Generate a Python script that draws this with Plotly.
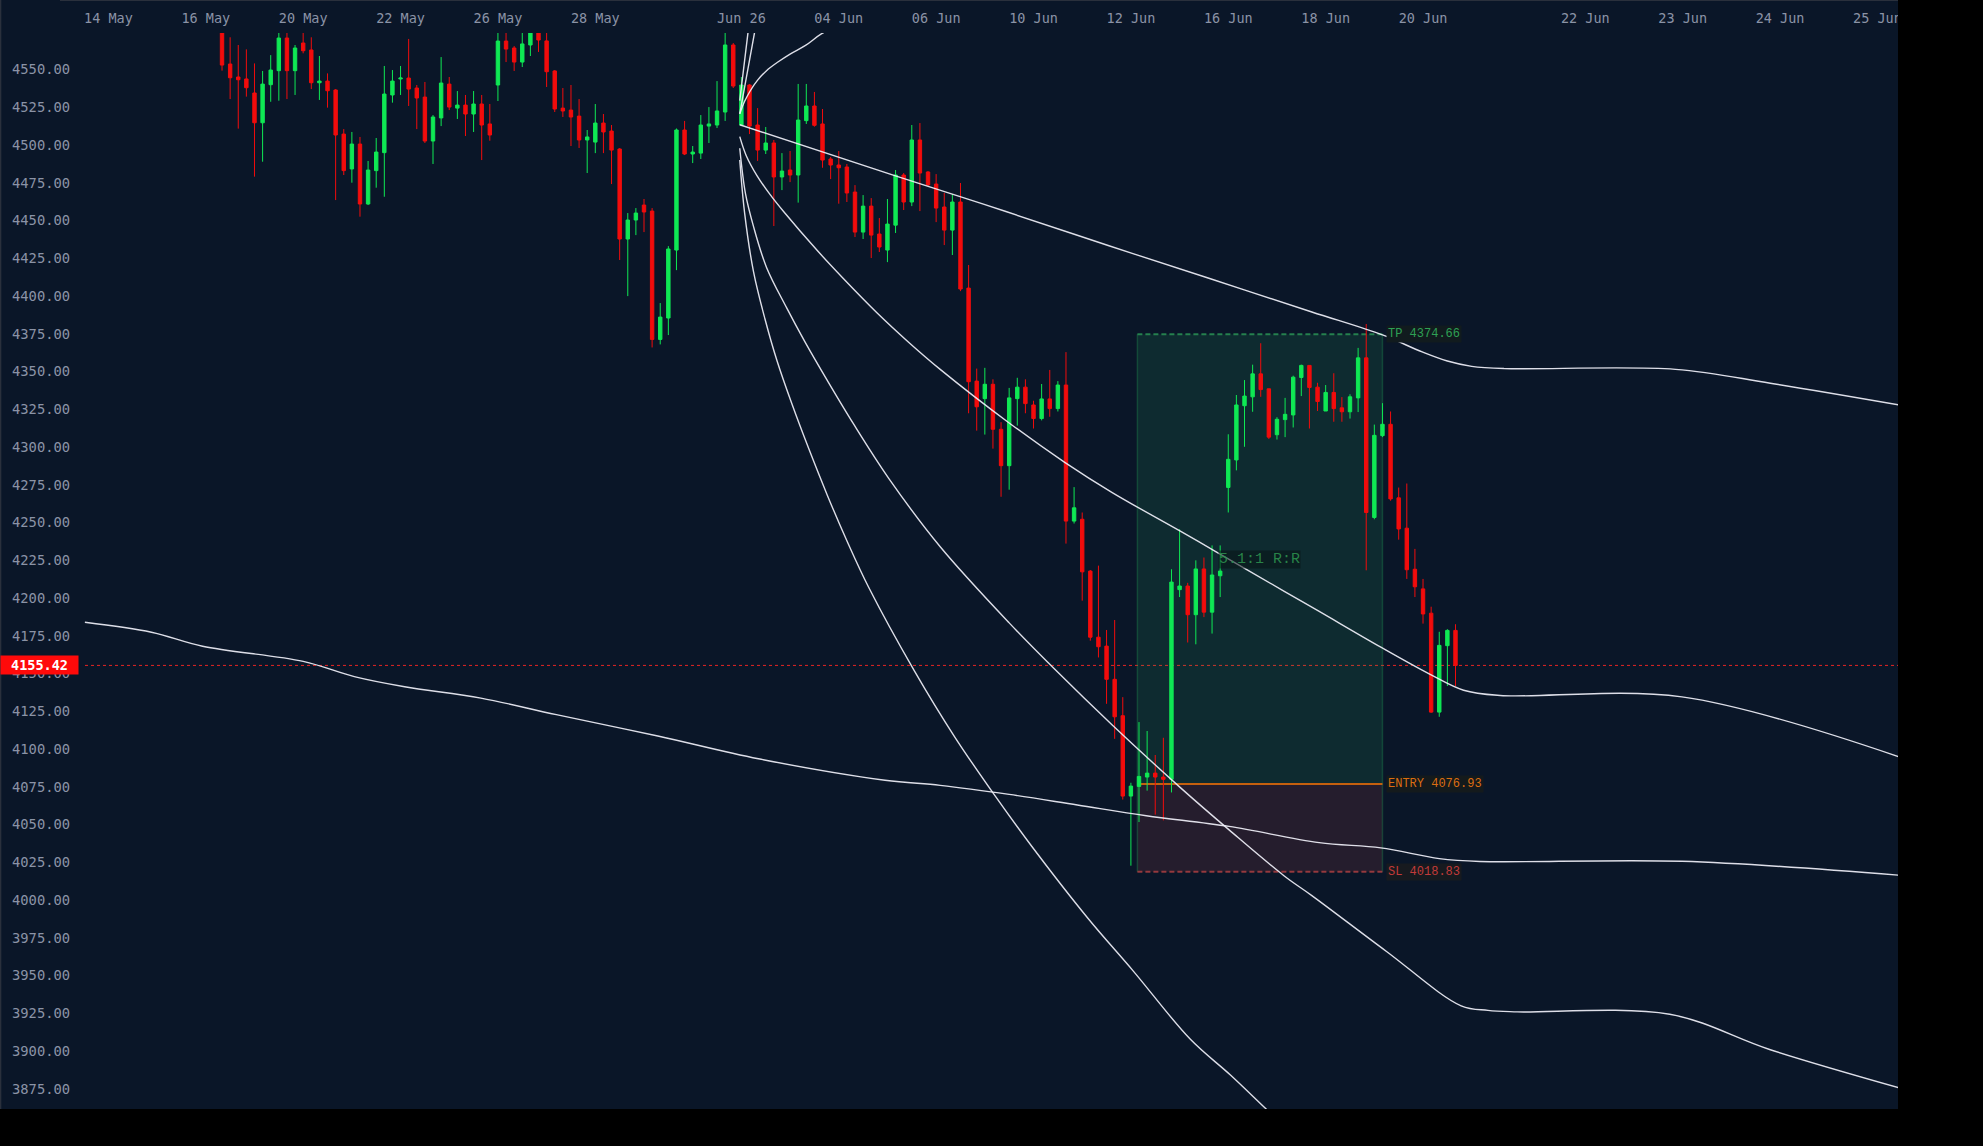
import plotly.graph_objects as go

# ---------------- data ----------------
bar_idx = list(range(14, 167))
opens = [4580, 4553.7, 4545.1, 4543.8, 4534.5, 4514.8, 4540.0, 4549.3, 4570.9, 4549.3,
         4567.6, 4563.0, 4541.3, 4542.4, 4536.5, 4507.3, 4484.2, 4500.7, 4461.0, 4483.1,
         4495.0, 4533.2, 4543.8, 4544.4, 4537.8, 4531.8, 4502.7, 4518.0, 4540.4, 4524.5,
         4526.5, 4520.6, 4527.2, 4514.0, 4539.8, 4568.9, 4564.3, 4555.0, 4566.3, 4576.0,
         4569.0, 4549.1, 4524.5, 4523.2, 4519.2, 4503.4, 4502.0, 4514.6, 4509.3, 4497.4,
         4437.8, 4450.4, 4460.3, 4456.3, 4371.3, 4385.5, 4430.5, 4510.0, 4494.1, 4494.7,
         4512.6, 4513.3, 4521.9, 4566.3, 4513.3, 4539.8, 4513.3, 4496.7, 4501.4, 4478.9,
         4483.5, 4480.2, 4516.2, 4525.9, 4514.0, 4490.8, 4486.8, 4485.5, 4468.9, 4442.4,
         4459.6, 4441.1, 4430.5, 4447.0, 4480.2, 4462.3, 4503.4, 4482.2, 4474.2, 4459.0,
         4443.7, 4462.3, 4405.3, 4343.7, 4332.1, 4341.6, 4311.8, 4287.7, 4332.1, 4339.7,
         4327.9, 4318.9, 4331.9, 4325.5, 4341.1, 4251.0, 4252.2, 4217.9, 4174.1, 4168.2,
         4146.2, 4122.1, 4068.9, 4075.3, 4081.5, 4084.1, 4081.5, 4080.0, 4205.6, 4208.0,
         4189.0, 4219.3, 4190.7, 4214.8, 4273.3, 4291.5, 4327.4, 4333.3, 4348.5, 4338.6,
         4308.2, 4318.2, 4321.3, 4346.1, 4354.1, 4339.7, 4323.9, 4336.2, 4326.0, 4323.4,
         4332.6, 4359.1, 4253.4, 4307.6, 4315.1, 4266.4, 4246.3, 4219.1, 4206.1, 4190.0,
         4124.5, 4168.5, 4178.6]
highs = [4590, 4571.4, 4566.3, 4563.4, 4554.1, 4549.1, 4559.6, 4576.0, 4576.0, 4566.3,
         4576.0, 4571.4, 4559.0, 4547.5, 4537.1, 4510.6, 4508.7, 4505.4, 4489.5, 4504.7,
         4552.4, 4549.7, 4552.4, 4570.3, 4539.8, 4541.8, 4519.9, 4558.3, 4545.1, 4535.8,
         4533.2, 4535.8, 4533.2, 4527.2, 4576.0, 4576.0, 4565.6, 4576.0, 4580.0, 4580.0,
         4578.0, 4549.7, 4537.8, 4539.8, 4530.5, 4510.0, 4527.2, 4520.6, 4513.3, 4498.0,
         4455.0, 4458.3, 4464.3, 4458.3, 4395.4, 4433.1, 4511.0, 4516.0, 4499.4, 4519.9,
         4525.2, 4542.4, 4576.0, 4567.6, 4545.1, 4540.4, 4524.5, 4512.0, 4503.4, 4494.7,
         4496.1, 4540.5, 4540.5, 4535.2, 4523.9, 4492.1, 4496.1, 4487.5, 4473.5, 4466.9,
         4464.9, 4451.7, 4464.3, 4483.5, 4481.5, 4513.3, 4514.6, 4482.8, 4480.8, 4468.3,
         4467.6, 4474.9, 4420.6, 4352.0, 4352.5, 4344.9, 4316.5, 4339.2, 4345.9, 4344.9,
         4330.7, 4341.8, 4351.1, 4343.7, 4362.9, 4273.5, 4256.7, 4218.6, 4221.5, 4178.9,
         4185.5, 4134.4, 4077.7, 4117.9, 4112.0, 4096.1, 4107.5, 4219.1, 4245.6, 4210.1,
         4225.0, 4226.9, 4234.9, 4234.9, 4308.5, 4334.5, 4344.4, 4354.6, 4368.8, 4338.6,
         4319.8, 4332.6, 4347.3, 4354.6, 4354.1, 4342.6, 4341.1, 4348.9, 4333.1, 4335.0,
         4365.7, 4381.5, 4314.9, 4329.1, 4323.6, 4273.2, 4275.9, 4232.6, 4212.7, 4194.3,
         4177.7, 4179.4, 4182.7]
lows = [4549.3, 4530.5, 4510.9, 4532.1, 4479.1, 4489.0, 4528.7, 4529.4, 4530.5, 4533.2,
        4560.8, 4537.1, 4529.9, 4524.8, 4463.6, 4480.2, 4475.1, 4452.6, 4460.3, 4471.8,
        4465.8, 4528.1, 4533.2, 4525.9, 4510.6, 4501.4, 4487.5, 4512.6, 4523.2, 4517.3,
        4506.0, 4508.7, 4490.1, 4502.9, 4529.2, 4555.0, 4549.1, 4551.7, 4559.0, 4561.7,
        4538.5, 4521.9, 4518.6, 4499.4, 4498.1, 4481.5, 4494.7, 4494.7, 4474.2, 4423.9,
        4400.0, 4440.4, 4442.4, 4366.0, 4368.0, 4374.2, 4417.2, 4493.4, 4488.1, 4490.8,
        4501.4, 4511.3, 4516.0, 4537.8, 4512.6, 4507.3, 4489.5, 4494.1, 4446.4, 4470.2,
        4475.5, 4461.9, 4514.0, 4512.2, 4485.0, 4477.5, 4461.2, 4462.3, 4439.1, 4437.8,
        4425.2, 4429.2, 4422.5, 4441.8, 4457.0, 4459.6, 4456.3, 4472.9, 4449.0, 4433.8,
        4427.2, 4403.3, 4322.4, 4310.9, 4308.3, 4299.0, 4267.1, 4271.8, 4314.2, 4322.4,
        4312.3, 4317.7, 4320.1, 4323.6, 4236.1, 4249.4, 4198.3, 4171.8, 4160.7, 4130.0,
        4106.8, 4066.6, 4022.8, 4051.7, 4072.5, 4056.6, 4052.8, 4071.3, 4200.7, 4170.6,
        4169.4, 4187.4, 4176.5, 4200.7, 4256.7, 4284.6, 4300.2, 4323.4, 4333.3, 4305.4,
        4305.0, 4306.6, 4313.0, 4333.8, 4312.3, 4323.9, 4323.9, 4316.8, 4316.8, 4318.9,
        4323.2, 4218.4, 4252.2, 4306.6, 4264.5, 4238.7, 4212.7, 4200.7, 4183.1, 4124.0,
        4121.4, 4141.8, 4141.8]
closes = [4553.0, 4544.6, 4543.3, 4538.0, 4514.8, 4540.4, 4549.7, 4570.9, 4549.3, 4564.3,
          4562.5, 4541.3, 4542.4, 4536.0, 4506.7, 4483.1, 4500.7, 4461.0, 4483.5, 4495.4,
          4533.8, 4542.4, 4544.4, 4537.1, 4531.2, 4502.7, 4518.6, 4541.1, 4525.2, 4526.5,
          4520.6, 4527.2, 4513.3, 4506.7, 4568.9, 4563.6, 4555.0, 4567.0, 4578.0, 4569.6,
          4548.6, 4523.9, 4522.6, 4518.6, 4503.4, 4505.4, 4514.6, 4508.7, 4496.7, 4437.8,
          4450.4, 4455.0, 4455.7, 4371.3, 4386.1, 4431.2, 4510.0, 4494.1, 4495.4, 4513.3,
          4514.0, 4522.6, 4566.3, 4539.1, 4539.8, 4512.6, 4496.7, 4501.4, 4478.9, 4482.8,
          4480.2, 4516.6, 4525.9, 4513.1, 4490.1, 4486.8, 4485.0, 4468.3, 4442.4, 4459.6,
          4440.4, 4432.5, 4447.7, 4480.2, 4462.3, 4503.4, 4481.5, 4473.6, 4458.3, 4443.7,
          4462.3, 4404.7, 4343.3, 4326.7, 4341.6, 4311.8, 4287.7, 4332.6, 4339.7, 4328.8,
          4318.9, 4331.9, 4325.5, 4341.1, 4251.0, 4259.8, 4217.4, 4174.1, 4167.8, 4146.2,
          4121.4, 4068.9, 4075.5, 4081.9, 4084.1, 4081.5, 4080.0, 4210.6, 4208.0, 4189.0,
          4219.3, 4190.7, 4215.3, 4217.9, 4291.9, 4327.9, 4333.8, 4348.5, 4338.1, 4306.6,
          4318.4, 4321.7, 4346.3, 4354.1, 4339.5, 4330.2, 4336.2, 4325.5, 4323.4, 4333.3,
          4359.1, 4256.7, 4307.8, 4315.1, 4265.7, 4245.8, 4218.8, 4207.5, 4189.5, 4124.5,
          4168.7, 4178.6, 4155.42]

# time axis labels (bar index -> label)
label_pos = [0, 12, 24, 36, 48, 60, 78, 90, 102, 114, 126, 138, 150, 162, 182, 194, 206, 218]
label_txt = ["14 May", "16 May", "20 May", "22 May", "26 May", "28 May", "Jun 26", "04 Jun",
             "06 Jun", "10 Jun", "12 Jun", "16 Jun", "18 Jun", "20 Jun", "22 Jun", "23 Jun",
             "24 Jun", "25 Jun"]

# white curves (bar index, price)
band_a_x = [-2.9, 5.3, 11.6, 24, 30.3, 36.5, 45.9, 55.2, 67.7, 80.1, 95.7, 102.5, 111, 119.4,
            127.9, 138.1, 149.2, 156.8, 164, 169, 193.9, 220.6]
band_a_y = [4184, 4177.4, 4168.1, 4158.1, 4148, 4141.3, 4133.8, 4122.8, 4108.7, 4093.6, 4079.4,
            4076, 4070, 4063, 4055.9, 4048.8, 4038.1, 4034.6, 4027.5, 4025.6, 4025.7, 4016.5]
fan_b_x = [77.8, 96.8, 110.6, 123.2, 135.8, 148.3, 157.0, 161.9, 165.0, 168.0, 172, 193.1,
           204.8, 220.6]
fan_b_y = [4513.5, 4480.0, 4456.0, 4433.5, 4411.5, 4389.5, 4374.3, 4363.0, 4357.0, 4353.5,
           4352, 4351.5, 4342.3, 4328]
fan_c_x = [77.8, 78.6, 79.9, 81.5, 83.2, 87.3, 90.5, 94.7, 98.5, 102.5, 111, 117.8, 123.7,
           132.2, 136.4, 144.9, 149.1, 156.8, 162.7, 167, 171.5, 193.9, 220.6]
fan_c_y = [4505.6, 4493, 4480, 4467.5, 4456, 4430.5, 4412, 4389, 4370, 4351.5, 4316,
           4290.1, 4269.9, 4244, 4231, 4204.5, 4191.5, 4167.5, 4150, 4139, 4135.5,
           4134.6, 4095]
fan_d_x = [77.8, 78.5, 79.5, 81.1, 83.6, 85.8, 88.6, 91.8, 96.2, 102.5, 111, 116.5, 123.7,
           132.2, 138.1, 144.9, 148.3, 157.5, 166.7, 170, 173.6, 192.4, 204.8, 220.6]
fan_d_y = [4497.9, 4468, 4446, 4419, 4392, 4370, 4344, 4315.5, 4279, 4234, 4183.6,
           4153.5, 4116, 4074, 4046.5, 4016, 4003, 3966, 3930, 3927, 3926, 3924.4,
           3900.9, 3875.8]
fan_e_x = [77.8, 78.4, 79.5, 80.9, 82.4, 84.2, 86.3, 88.6, 91.0, 93.7, 99.3, 104.3, 109.4,
           113.8, 120.7, 126.3, 133.3, 138.3, 142.7, 145]
fan_e_y = [4490.1, 4455, 4416, 4385, 4357, 4329, 4299, 4268, 4238, 4207, 4152,
           4108, 4068, 4035.5, 3988, 3953, 3908, 3884, 3861.5, 3850]
up_1_x = [77.8, 78.8, 79.6]
up_1_y = [4529.5, 4573.8, 4610]
up_2_x = [77.8, 79.6, 81.0]
up_2_y = [4520.7, 4573.8, 4615]
up_arc_x = [77.8, 78.4, 79.1, 80.0, 81.1, 82.5, 84.0, 85.9, 87.9, 91.0]
up_arc_y = [4520.7, 4529, 4536, 4543, 4549.3, 4555, 4560.3, 4566, 4573.8, 4582]

# position tool
entry_price = 4076.93
tp_price = 4374.66
sl_price = 4018.83
pos_start = 126.8
pos_end = 157.0
last_price = closes[-1]

# ---------------- style ----------------
BG = "#0a1628"
UP = "#0fe854"
DOWN = "#f20c0c"
AX = "#8b93a6"
W, H = 1983, 1146
PLOT_W, PLOT_H = 1898, 1076
TOP = 33
MONO = "DejaVu Sans Mono, monospace"

fig = go.Figure()
fig.add_trace(go.Candlestick(
    x=bar_idx, open=opens, high=highs, low=lows, close=closes,
    increasing=dict(line=dict(color=UP, width=1), fillcolor=UP),
    decreasing=dict(line=dict(color=DOWN, width=1), fillcolor=DOWN),
    whiskerwidth=0, showlegend=False, hoverinfo="skip"))

line_style = dict(color="rgba(240,240,248,0.92)", width=1.4, shape="spline", smoothing=1.0)
for xs, ys in [(band_a_x, band_a_y), (fan_b_x, fan_b_y), (fan_c_x, fan_c_y),
               (fan_d_x, fan_d_y), (fan_e_x, fan_e_y), (up_1_x, up_1_y),
               (up_2_x, up_2_y), (up_arc_x, up_arc_y)]:
    fig.add_trace(go.Scatter(x=xs, y=ys, mode="lines", line=line_style,
                             showlegend=False, hoverinfo="skip"))

shapes = [
    dict(type="rect", xref="paper", yref="paper", x0=0, x1=1, y0=1, y1=1 + TOP / PLOT_H,
         fillcolor=BG, line_width=0, layer="below"),
    dict(type="line", xref="paper", yref="paper", x0=60 / PLOT_W, x1=1,
         y0=1 + (TOP - 0.5) / PLOT_H, y1=1 + (TOP - 0.5) / PLOT_H,
         line=dict(color="#2a303c", width=1), layer="below"),
    dict(type="line", xref="paper", yref="paper", x0=0.0003, x1=0.0003, y0=0, y1=1 + TOP / PLOT_H,
         line=dict(color="#2a303c", width=1.5), layer="below"),
    dict(type="rect", x0=pos_start, x1=pos_end, y0=entry_price, y1=tp_price,
         fillcolor="rgba(38,166,91,0.15)", line_width=0, layer="below"),
    dict(type="rect", x0=pos_start, x1=pos_end, y0=sl_price, y1=entry_price,
         fillcolor="rgba(239,83,80,0.12)", line_width=0, layer="below"),
    dict(type="line", x0=pos_start, x1=pos_start, y0=sl_price, y1=tp_price,
         line=dict(color="rgba(38,166,91,0.30)", width=1.5), layer="below"),
    dict(type="line", x0=pos_end, x1=pos_end, y0=sl_price, y1=tp_price,
         line=dict(color="rgba(38,166,91,0.30)", width=1.5), layer="below"),
    dict(type="line", x0=pos_start, x1=pos_end, y0=tp_price, y1=tp_price,
         line=dict(color="rgba(46,160,90,0.75)", width=2, dash="5px,3px"), layer="below"),
    dict(type="line", x0=pos_start, x1=pos_end, y0=sl_price, y1=sl_price,
         line=dict(color="rgba(200,70,70,0.7)", width=2, dash="5px,3px"), layer="below"),
    dict(type="line", x0=pos_start, x1=pos_end, y0=entry_price, y1=entry_price,
         line=dict(color="#c4600e", width=2), layer="below"),
    dict(type="line", xref="paper", x0=85 / PLOT_W, x1=1, y0=last_price, y1=last_price,
         line=dict(color="#e52424", width=1, dash="3px,3px"), layer="below"),
    dict(type="rect", xref="paper", yref="paper", x0=1, x1=1.06, y0=-0.05, y1=1.05,
         fillcolor="#000000", line_width=0, layer="above"),
]

ann_font = "Liberation Mono, Courier New, monospace"
rr = (tp_price - entry_price) / (entry_price - sl_price)
annotations = [
    dict(x=pos_end, y=tp_price, xanchor="left", yanchor="middle", xshift=4, showarrow=False,
         text=f"TP {tp_price:.2f}", font=dict(family=ann_font, size=12, color="#2ea055"),
         bgcolor="#111b1e", borderpad=1),
    dict(x=pos_end, y=entry_price, xanchor="left", yanchor="middle", xshift=4, showarrow=False,
         text=f"ENTRY {entry_price:.2f}", font=dict(family=ann_font, size=12, color="#db6d12"),
         bgcolor="#141a1c", borderpad=1),
    dict(x=pos_end, y=sl_price, xanchor="left", yanchor="middle", xshift=4, showarrow=False,
         text=f"SL {sl_price:.2f}", font=dict(family=ann_font, size=12, color="#c23a3a"),
         bgcolor="#171a1f", borderpad=1),
    dict(x=(pos_start + pos_end) / 2, y=(entry_price + tp_price) / 2, showarrow=False,
         xanchor="center", yanchor="middle",
         text=f"{rr:.1f}:1 R:R", font=dict(family=ann_font, size=15, color="rgba(46,150,80,0.85)"),
         bgcolor="rgba(8,20,22,0.55)", borderpad=0),
    dict(xref="paper", x=0, y=last_price, xanchor="left", yanchor="middle", showarrow=False,
         text=f"<b>{last_price:.2f}</b>",
         font=dict(family=MONO, size=13.5, color="#ffffff"),
         bgcolor="#ff0a0a", width=77, height=18, borderpad=0, align="center"),
]

fig.update_layout(
    width=W, height=H,
    margin=dict(l=0, r=W - PLOT_W, t=TOP, b=H - TOP - PLOT_H, pad=0),
    paper_bgcolor="#000000", plot_bgcolor=BG,
    boxgap=0.4,
    shapes=shapes, annotations=annotations,
    showlegend=False,
    xaxis=dict(range=[-13.36, 220.53], side="top", tickmode="array", tickvals=label_pos,
               ticktext=label_txt, showgrid=False, zeroline=False, showline=False, ticks="",
               ticklabelstandoff=6,
               tickfont=dict(family=MONO, size=13.5, color=AX),
               rangeslider=dict(visible=False), fixedrange=True),
    yaxis=dict(range=[3861.66, 4574.24], tick0=0, dtick=25, tickformat=".2f",
               ticklabelposition="inside", side="left", showgrid=False, zeroline=False,
               showline=False, ticks="", ticklabelstandoff=9,
               tickfont=dict(family=MONO, size=13.8, color=AX),
               fixedrange=True),
)

fig.write_html("out.html", config={"displayModeBar": False},
               post_script="document.body.style.margin='0';document.body.style.overflow='hidden';")
